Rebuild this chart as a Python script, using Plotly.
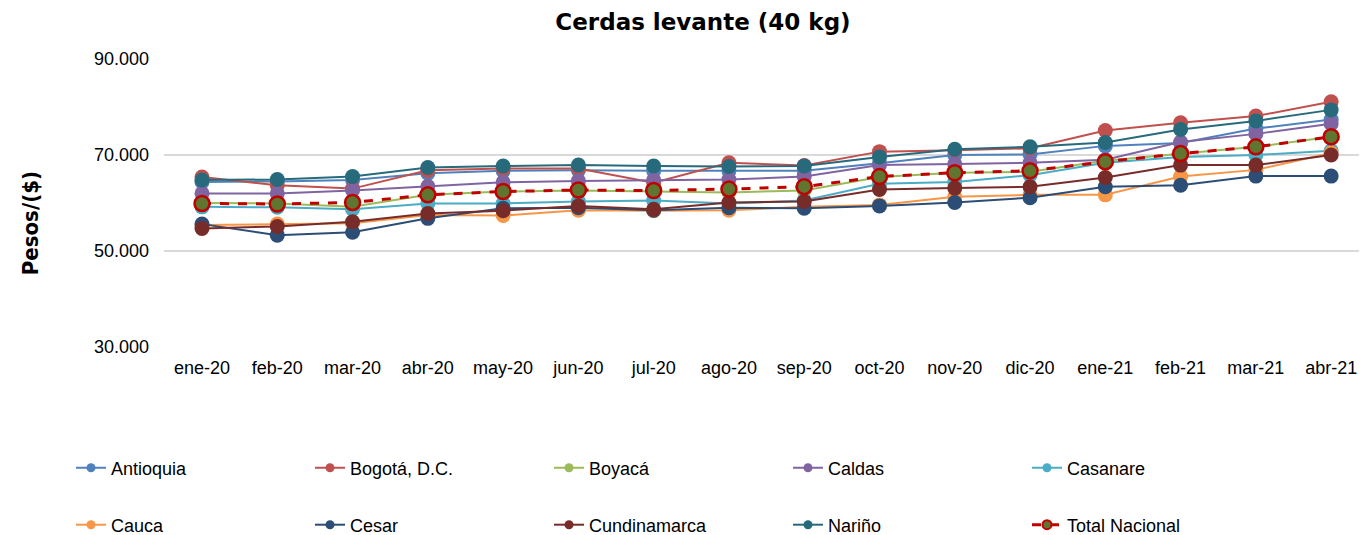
import plotly.graph_objects as go

# Precio cerdas levante (40 kg), pesos
meses = ['ene-20', 'feb-20', 'mar-20', 'abr-20', 'may-20', 'jun-20', 'jul-20', 'ago-20',
         'sep-20', 'oct-20', 'nov-20', 'dic-20', 'ene-21', 'feb-21', 'mar-21', 'abr-21']

antioquia = [64400, 64500, 64800, 66200, 66700, 66800, 66700, 66700,
             66700, 68300, 70000, 70100, 71900, 72500, 75500, 77400]
bogota = [65400, 63700, 63000, 66800, 67200, 67200, 64200, 68400,
          67800, 70700, 71000, 71400, 75100, 76700, 78100, 81100]
boyaca = [60000, 59900, 59200, 61700, 62400, 62600, 62400, 62200,
          62600, 65400, 66300, 66500, 68800, 70300, 71700, 73800]
caldas = [62000, 62000, 62600, 63500, 64300, 64600, 64800, 64900,
          65500, 67900, 68100, 68400, 69000, 72700, 74400, 76500]
casanare = [59200, 59100, 58700, 59900, 59900, 60300, 60500, 59900,
            60500, 64000, 64400, 65800, 68400, 69600, 70000, 70900]
cauca = [55400, 55600, 55800, 57500, 57400, 58500, 58400, 58500,
         59200, 59600, 61300, 61700, 61700, 65500, 66900, 70400]
cesar = [55600, 53300, 53900, 56800, 58900, 59000, 58500, 59000,
         58900, 59400, 60100, 61100, 63400, 63700, 65600, 65600]
cundinamarca = [54700, 55100, 56100, 57800, 58400, 59400, 58700, 60100,
                60300, 62800, 63100, 63400, 65300, 67900, 67900, 70000]
narino = [64800, 64900, 65500, 67400, 67700, 67900, 67700, 67600,
          67700, 69600, 71200, 71700, 72600, 75300, 77100, 79400]
total_nacional = [59900, 59800, 60100, 61700, 62400, 62700, 62600, 62900,
                  63400, 65500, 66300, 66700, 68600, 70300, 71700, 73800]

series = [
    ('Antioquia', antioquia, '#4F81BD', 'legend'),
    ('Bogotá, D.C.', bogota, '#C0504D', 'legend'),
    ('Boyacá', boyaca, '#9BBB59', 'legend'),
    ('Caldas', caldas, '#8064A2', 'legend'),
    ('Casanare', casanare, '#4BACC6', 'legend'),
    ('Cauca', cauca, '#F79646', 'legend2'),
    ('Cesar', cesar, '#2C4D75', 'legend2'),
    ('Cundinamarca', cundinamarca, '#772C2A', 'legend2'),
    ('Nariño', narino, '#276A7C', 'legend2'),
]

fig = go.Figure()
for nombre, valores, color, leg in series:
    fig.add_trace(go.Scatter(
        x=meses, y=valores, name=nombre, mode='lines+markers', showlegend=False,
        line=dict(color=color, width=2),
        marker=dict(color=color, size=15),
    ))

fig.add_trace(go.Scatter(
    x=meses, y=total_nacional, name='Total Nacional', mode='lines+markers', showlegend=False,
    line=dict(color='#C00000', width=3, dash='dash'),
    marker=dict(color='#5F7530', size=15, line=dict(color='#C00000', width=2.5)),
))

# entradas de leyenda con marcador pequeño, como en el original
for nombre, valores, color, leg in series:
    fig.add_trace(go.Scatter(
        x=[None], y=[None], name=nombre, mode='lines+markers', legend=leg,
        line=dict(color=color, width=2), marker=dict(color=color, size=9),
    ))
fig.add_trace(go.Scatter(
    x=[None], y=[None], name='Total Nacional', mode='lines+markers', legend='legend2',
    line=dict(color='#C00000', width=3, dash='dash'),
    marker=dict(color='#5F7530', size=9, line=dict(color='#C00000', width=2)),
))

fuente = 'Liberation Sans, Arial, sans-serif'
W, H = 1351, 527
leyenda = dict(orientation='h', xref='container', yref='container', x=63 / W,
               xanchor='left', yanchor='middle', entrywidth=194, entrywidthmode='pixels',
               font=dict(family=fuente, size=18, color='#000000'),
               bgcolor='rgba(0,0,0,0)')

fig.update_layout(
    width=W, height=H,
    margin=dict(l=156, r=0, t=51, b=188, autoexpand=False),
    paper_bgcolor='white', plot_bgcolor='white',
    separators=',.',
    font=dict(family=fuente, size=18, color='#000000'),
    title=dict(text='<b>Cerdas levante (40 kg)</b>', xref='container', yref='container',
               x=695 / W, y=1 - 14 / H, xanchor='center', yanchor='middle',
               font=dict(family='DejaVu Sans, sans-serif', size=23, color='#000000')),
    xaxis=dict(type='category', range=[-0.505, 15.37], showgrid=False, showline=False,
               zeroline=False, ticks='', ticklabelstandoff=8, automargin=False,
               tickfont=dict(family=fuente, size=18, color='#000000')),
    yaxis=dict(range=[30000, 90000], tick0=30000, dtick=20000, tickformat=',.0f',
               showgrid=True, gridcolor='#D9D9D9', gridwidth=1.5, zeroline=False,
               showline=False, ticks='', ticklabelstandoff=14, automargin=False,
               tickfont=dict(family=fuente, size=18, color='#000000')),
    legend=dict(leyenda, y=1 - 460 / H),
    legend2=dict(leyenda, y=1 - 517 / H),
    showlegend=True,
    annotations=[dict(text='<b>Pesos/($)</b>', textangle=-90, xref='paper', yref='paper',
                      x=-0.1121, y=0.43, xanchor='center', yanchor='middle', showarrow=False,
                      font=dict(family='Liberation Sans Narrow, DejaVu Sans Condensed, sans-serif',
                                size=22, color='#000000'))],
)

fig.write_html('out.html')
